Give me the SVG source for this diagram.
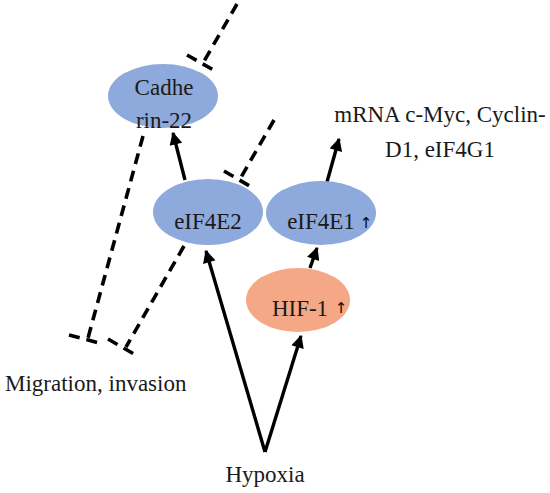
<svg xmlns="http://www.w3.org/2000/svg" width="550" height="493" viewBox="0 0 550 493">
<defs>
<style>
.t{font-family:"Liberation Serif","Times New Roman",serif;font-size:23px;fill:#1a1a1a}
.blue{fill:#8EA9DB}
.red{fill:#F4A886}
.arr{stroke:#000;stroke-width:3.4;fill:none;marker-end:url(#ah)}
.dash{stroke:#000;stroke-width:3.6;fill:none;stroke-dasharray:11 7}
.up{font-family:"DejaVu Sans",sans-serif;font-size:15px;fill:#000}
</style>
<marker id="ah" viewBox="0 0 10 10" refX="9" refY="5" markerWidth="4.2" markerHeight="3.8" orient="auto" markerUnits="strokeWidth">
<path d="M0,0 L10,5 L0,10 z" fill="#000"/>
</marker>
</defs>
<rect width="550" height="493" fill="#fff"/>
<g id="connectors">
<line class="arr" x1="185" y1="180" x2="173" y2="133"/>
<line class="arr" x1="327" y1="182" x2="339" y2="139"/>
<line class="arr" x1="310" y1="268" x2="317" y2="248"/>
<line class="arr" x1="265" y1="452" x2="206" y2="251"/>
<line class="arr" x1="265" y1="452" x2="301" y2="336"/>
<line class="dash" x1="237" y1="4" x2="203" y2="63"/>
<line class="dash" x1="187" y1="55" x2="217" y2="72"/>
<line class="dash" x1="274" y1="120" x2="240" y2="179"/>
<line class="dash" x1="224" y1="171" x2="253" y2="188"/>
<line class="dash" x1="143" y1="136" x2="88" y2="338"/>
<line class="dash" x1="69" y1="335" x2="103" y2="344"/>
<line class="dash" x1="184" y1="246" x2="126" y2="347"/>
<line class="dash" x1="108" y1="339" x2="139" y2="357"/>
</g>
<g id="cadherin">
<ellipse class="blue" cx="163" cy="96" rx="55" ry="32"/>
<text class="t" x="164" y="95" text-anchor="middle">Cadhe</text>
<text class="t" x="164" y="128" text-anchor="middle">rin-22</text>
</g>
<g id="eIF4E2">
<ellipse class="blue" cx="208" cy="212" rx="55" ry="33"/>
<text class="t" x="208" y="229" text-anchor="middle">eIF4E2</text>
</g>
<g id="eIF4E1">
<ellipse class="blue" cx="321" cy="213" rx="55" ry="32"/>
<text class="t" x="321" y="229" text-anchor="middle">eIF4E1</text>
<text class="up" x="366" y="228" text-anchor="middle">↑</text>
</g>
<g id="HIF-1">
<ellipse class="red" cx="298" cy="300" rx="52" ry="32"/>
<text class="t" x="300" y="316" text-anchor="middle">HIF-1</text>
<text class="up" x="341" y="313" text-anchor="middle">↑</text>
</g>
<g id="mRNA">
<text class="t" x="440" y="122" text-anchor="middle">mRNA c-Myc, Cyclin-</text>
<text class="t" x="440" y="157" text-anchor="middle">D1, eIF4G1</text>
</g>
<g id="migration">
<text class="t" x="5" y="391">Migration, invasion</text>
</g>
<g id="hypoxia">
<text class="t" x="265" y="482" text-anchor="middle">Hypoxia</text>
</g>
</svg>
